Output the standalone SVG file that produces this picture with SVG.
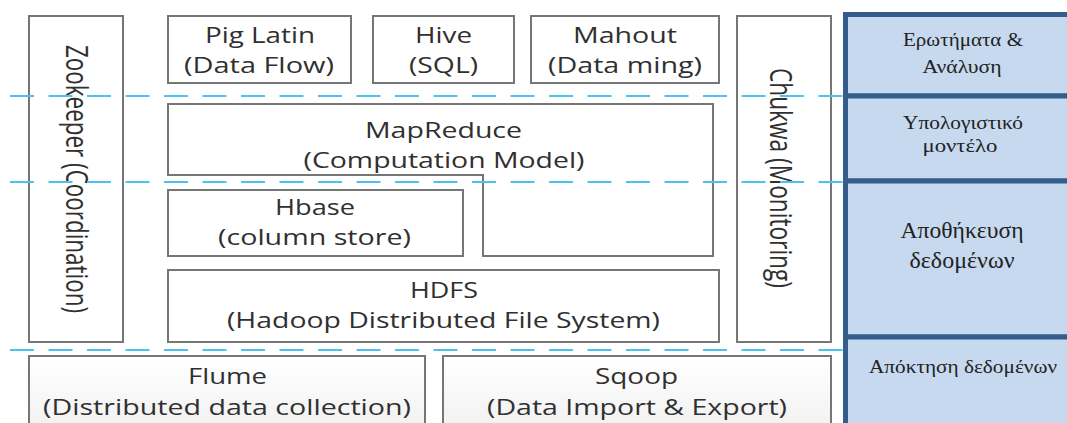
<svg xmlns="http://www.w3.org/2000/svg" width="1067" height="423" viewBox="0 0 1067 423">
  <defs>
    <linearGradient id="ingest" x1="0" y1="0" x2="0" y2="1">
      <stop offset="0" stop-color="#ffffff"/>
      <stop offset="1" stop-color="#f0f0f0"/>
    </linearGradient>
    <style>
      .box { fill: #ffffff; stroke: #767676; stroke-width: 2; }
      .ing { fill: url(#ingest); stroke: #767676; stroke-width: 2; }
      .lbl { font-family: "Open Sans", "Noto Sans", sans-serif; font-size: 22px; fill: #303030; text-anchor: middle; }
      .layer { stroke: #4ec2ee; stroke-width: 2; stroke-dasharray: 24 14.5; fill: none; }
      .band { fill: #c6d9ef; stroke: #355d8c; stroke-width: 5; }
      .gr { font-family: "Liberation Serif", "DejaVu Serif", serif; font-size: 18px; fill: #222222; text-anchor: middle; }
      .grl { font-size: 23px; }
      .grs { font-size: 19px; }
    </style>
  </defs>

  <rect width="1067" height="423" fill="#ffffff"/>

  <!-- layer legend on the right -->
  <g id="legend">
    <rect class="band" x="845.5" y="14.5" width="230" height="81.5"/>
    <rect class="band" x="845.5" y="96" width="230" height="85"/>
    <rect class="band" x="845.5" y="181" width="230" height="156"/>
    <rect class="band" x="845.5" y="337" width="230" height="95"/>
    <text class="gr" x="963" y="46" textLength="120" lengthAdjust="spacingAndGlyphs">Ερωτήματα &amp;</text>
    <text class="gr" x="962" y="73" textLength="79" lengthAdjust="spacingAndGlyphs">Ανάλυση</text>
    <text class="gr" x="963" y="129" textLength="120" lengthAdjust="spacingAndGlyphs">Υπολογιστικό</text>
    <text class="gr" x="960" y="152" textLength="75" lengthAdjust="spacingAndGlyphs">μοντέλο</text>
    <text class="gr grl" x="962" y="238" textLength="123" lengthAdjust="spacingAndGlyphs">Αποθήκευση</text>
    <text class="gr grl" x="962" y="268" textLength="105" lengthAdjust="spacingAndGlyphs">δεδομένων</text>
    <text class="gr grs" x="963" y="373" textLength="188" lengthAdjust="spacingAndGlyphs">Απόκτηση δεδομένων</text>
  </g>

  <g id="zookeeper">
    <rect class="box" x="29" y="16" width="94" height="326"/>
    <text class="lbl" transform="translate(66 179) scale(1.4 1) rotate(90)" textLength="268" lengthAdjust="spacingAndGlyphs">Zookeeper (Coordination)</text>
  </g>

  <g id="chukwa">
    <rect class="box" x="737" y="16" width="94" height="326"/>
    <text class="lbl" transform="translate(770 178) scale(1.4 1) rotate(90)" textLength="220" lengthAdjust="spacingAndGlyphs">Chukwa (Monitoring)</text>
  </g>

  <g id="pig">
    <rect class="box" x="168" y="16" width="183" height="67"/>
    <text class="lbl" x="260" y="43" textLength="110" lengthAdjust="spacingAndGlyphs">Pig Latin</text>
    <text class="lbl" x="259" y="73" textLength="150" lengthAdjust="spacingAndGlyphs">(Data Flow)</text>
  </g>

  <g id="hive">
    <rect class="box" x="373" y="16" width="141" height="67"/>
    <text class="lbl" x="443.5" y="43" textLength="57" lengthAdjust="spacingAndGlyphs">Hive</text>
    <text class="lbl" x="443.5" y="73" textLength="69" lengthAdjust="spacingAndGlyphs">(SQL)</text>
  </g>

  <g id="mahout">
    <rect class="box" x="531" y="16" width="188" height="67"/>
    <text class="lbl" x="625" y="43" textLength="104" lengthAdjust="spacingAndGlyphs">Mahout</text>
    <text class="lbl" x="625" y="73" textLength="154" lengthAdjust="spacingAndGlyphs">(Data ming)</text>
  </g>

  <g id="mapreduce">
    <path class="box" d="M168 104 H713 V256 H483 V175 H168 Z"/>
    <text class="lbl" x="443.5" y="138" textLength="157" lengthAdjust="spacingAndGlyphs">MapReduce</text>
    <text class="lbl" x="444" y="168" textLength="281" lengthAdjust="spacingAndGlyphs">(Computation Model)</text>
  </g>

  <g id="hbase">
    <rect class="box" x="168" y="190" width="295" height="66"/>
    <text class="lbl" x="315" y="215" textLength="80" lengthAdjust="spacingAndGlyphs">Hbase</text>
    <text class="lbl" x="314.5" y="245" textLength="193" lengthAdjust="spacingAndGlyphs">(column store)</text>
  </g>

  <g id="hdfs">
    <rect class="box" x="168" y="270" width="551" height="72"/>
    <text class="lbl" x="444" y="298" textLength="68" lengthAdjust="spacingAndGlyphs">HDFS</text>
    <text class="lbl" x="443.5" y="328" textLength="433" lengthAdjust="spacingAndGlyphs">(Hadoop Distributed File System)</text>
  </g>

  <g id="flume">
    <rect class="ing" x="29" y="356" width="396" height="80"/>
    <text class="lbl" x="227.5" y="384" textLength="79" lengthAdjust="spacingAndGlyphs">Flume</text>
    <text class="lbl" x="227" y="415" textLength="368" lengthAdjust="spacingAndGlyphs">(Distributed data collection)</text>
  </g>

  <g id="sqoop">
    <rect class="ing" x="443" y="356" width="388" height="80"/>
    <text class="lbl" x="636.5" y="384" textLength="83" lengthAdjust="spacingAndGlyphs">Sqoop</text>
    <text class="lbl" x="637" y="415" textLength="300" lengthAdjust="spacingAndGlyphs">(Data Import &amp; Export)</text>
  </g>

  <!-- dashed layer boundaries -->
  <g id="connectors">
    <line class="layer" x1="10" y1="96" x2="845" y2="96"/>
    <line class="layer" x1="10" y1="182" x2="845" y2="182"/>
    <line class="layer" x1="10" y1="350" x2="845" y2="350"/>
  </g>
</svg>
